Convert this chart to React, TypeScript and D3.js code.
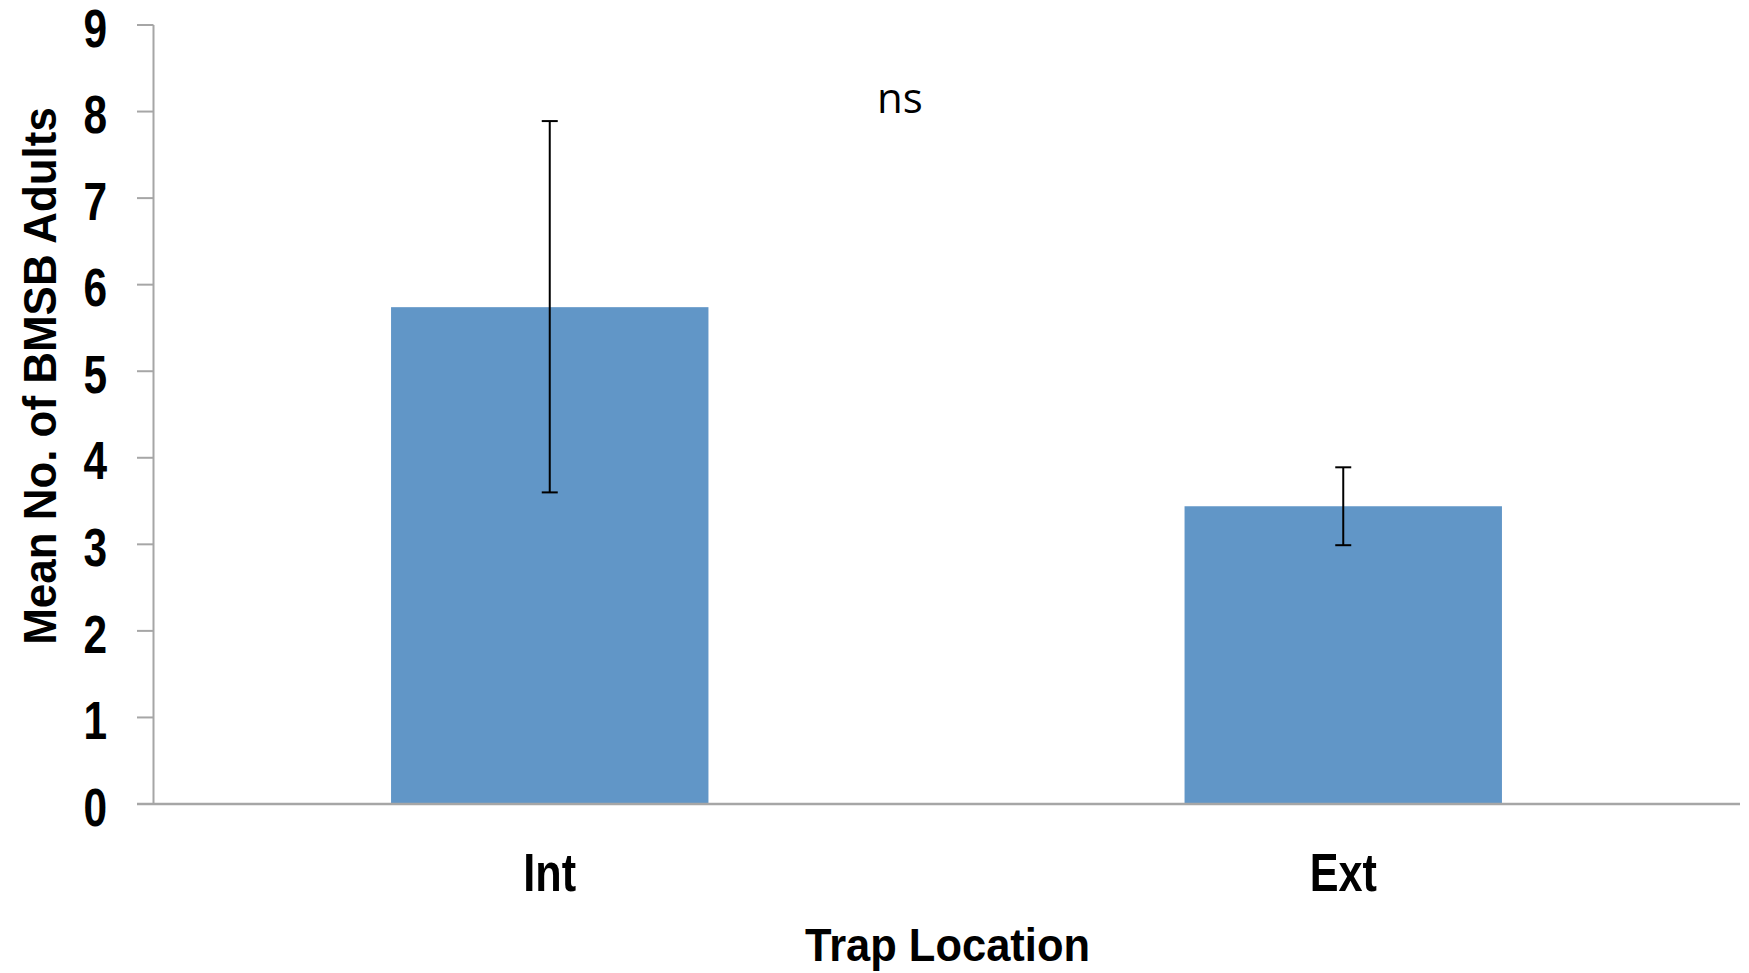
import React from "react";
import * as d3 from "d3";

const categories = ["Int", "Ext"];
const means = [5.74, 3.44];
const errLow = [3.6, 2.99];
const errHigh = [7.89, 3.89];
const yTicks = [0, 1, 2, 3, 4, 5, 6, 7, 8, 9];

const W = 1749;
const H = 973;

export default function App() {
  const x = d3
    .scaleBand<string>()
    .domain(categories)
    .range([153, 1740])
    .paddingInner(0.6)
    .paddingOuter(0.3);
  const y = d3.scaleLinear().domain([0, 9]).range([804, 25]);
  const font = "'Liberation Sans', Arial, Helvetica, sans-serif";
  const axisColor = "#A6A6A6";
  const capHalf = 8;

  return (
    <svg
      width={W}
      height={H}
      style={{ position: "absolute", left: 0, top: 0, background: "#fff" }}
    >
      {/* bars */}
      {categories.map((c, i) => (
        <rect
          key={c}
          x={x(c)!}
          y={y(means[i])}
          width={x.bandwidth()}
          height={y(0) - y(means[i])}
          fill="#6196C7"
        />
      ))}
      {/* axes */}
      <line x1={153.5} x2={153.5} y1={y(9)} y2={y(0)} stroke={axisColor} strokeWidth={2} />
      {yTicks.map((t) => (
        <line key={t} x1={137} x2={153.5} y1={y(t)} y2={y(t)} stroke={axisColor} strokeWidth={2} />
      ))}
      <line x1={137} x2={1740} y1={y(0)} y2={y(0)} stroke={axisColor} strokeWidth={2.5} />
      {/* error bars */}
      {categories.map((c, i) => {
        const cx = x(c)! + x.bandwidth() / 2;
        return (
          <g key={c} stroke="#000" strokeWidth={2}>
            <line x1={cx} x2={cx} y1={y(errHigh[i])} y2={y(errLow[i])} />
            <line x1={cx - capHalf} x2={cx + capHalf} y1={y(errHigh[i])} y2={y(errHigh[i])} />
            <line x1={cx - capHalf} x2={cx + capHalf} y1={y(errLow[i])} y2={y(errLow[i])} />
          </g>
        );
      })}
      {/* y tick labels */}
      {yTicks.map((t) => (
        <text
          key={t}
          transform={`translate(107,${y(t) + 21.7}) scale(0.8,1)`}
          textAnchor="end"
          fontFamily={font}
          fontWeight="bold"
          fontSize={53}
          fill="#000"
        >
          {t}
        </text>
      ))}
      {/* x tick labels */}
      {categories.map((c) => (
        <text
          key={c}
          transform={`translate(${x(c)! + x.bandwidth() / 2},891) scale(0.8,1)`}
          textAnchor="middle"
          fontFamily={font}
          fontWeight="bold"
          fontSize={54}
          fill="#000"
        >
          {c}
        </text>
      ))}
      {/* x title */}
      <text
        transform={`translate(947.5,961) scale(0.925,1)`}
        textAnchor="middle"
        fontFamily={font}
        fontWeight="bold"
        fontSize={47}
        fill="#000"
      >
        Trap Location
      </text>
      {/* y title */}
      <text
        transform={`translate(56,376) rotate(-90) scale(0.955,1)`}
        textAnchor="middle"
        fontFamily={font}
        fontWeight="bold"
        fontSize={46}
        fill="#000"
      >
        Mean No. of BMSB Adults
      </text>
      {/* annotation */}
      <text
        x={900}
        y={113}
        textAnchor="middle"
        fontFamily="'Open Sans', 'Noto Sans', sans-serif"
        fontSize={42}
        fill="#000"
      >
        ns
      </text>
    </svg>
  );
}
